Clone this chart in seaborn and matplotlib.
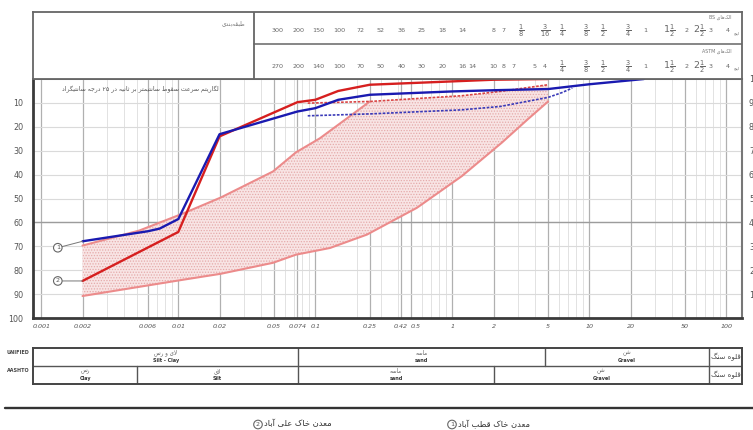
import re
import numpy as np
import matplotlib
matplotlib.use("Agg")
import matplotlib.pyplot as plt
from matplotlib.ticker import FixedLocator, FixedFormatter, NullFormatter
import seaborn as sns

# ---------------- gradation data (grain size in mm, percent passing) ----------------
size_s1 = [0.002, 0.006, 0.0073, 0.01, 0.02, 0.074, 0.1, 0.147, 0.25, 1, 2, 5, 10, 25]
pass_s1 = [32.1, 36.3, 37.4, 41.4, 76.9, 86.4, 87.8, 91.3, 93.4, 94.8, 95.3, 95.8, 97.8, 100]

size_s2 = [0.002, 0.01, 0.02, 0.074, 0.1, 0.147, 0.25, 1, 2, 5]
pass_s2 = [15.5, 36.0, 76.0, 90.3, 91.3, 95.0, 97.6, 99.0, 99.7, 100]

# specification envelope
env_upper_size = [0.002, 0.0052, 0.0108, 0.0204, 0.0491, 0.0722, 0.108, 0.25]
env_upper_pass = [30.3, 36.6, 43.7, 50.4, 61.3, 69.3, 75.2, 90.6]
env_lower_size = [0.002, 0.0108, 0.0204, 0.0491, 0.0722, 0.128, 0.238, 0.551, 1.175,
                  2.30, 3.56, 5]
env_lower_pass = [9.2, 16.0, 18.5, 23.1, 26.5, 29.3, 34.9, 46.1, 59.4, 73.4, 83.2, 90.6]

# dotted limit lines
lim_red_size = [0.088, 0.25, 1.175, 2.23, 5]
lim_red_pass = [89.9, 90.6, 93.0, 94.8, 97.6]
lim_blue_size = [0.088, 0.25, 1.175, 2.23, 5, 6.3, 7.5]
lim_blue_pass = [84.6, 85.4, 87.1, 88.5, 92.3, 94.3, 96.2]

# axis ticks
xtick_vals = [0.001, 0.002, 0.006, 0.01, 0.02, 0.05, 0.074, 0.1, 0.25, 0.42, 0.5,
              1, 2, 5, 10, 20, 50, 100]
xtick_labels = ["0.001", "0.002", "0.006", "0.01", "0.02", "0.05", "0.074", "0.1",
                "0.25", "0.42", "0.5", "1", "2", "5", "10", "20", "50", "100"]

# sieve series (opening in mm)
bs_sizes = [0.053, 0.075, 0.106, 0.15, 0.212, 0.3, 0.425, 0.6, 0.85, 1.18, 2.0, 2.36,
            3.18, 4.76, 6.35, 9.53, 12.7, 19.05, 25.4, 38.1, 50.8, 63.5, 76.2, 101.6]
bs_labels = ["300", "200", "150", "100", "72", "52", "36", "25", "18", "14", "8", "7",
             r"$\frac{1}{8}$", r"$\frac{3}{16}$", r"$\frac{1}{4}$", r"$\frac{3}{8}$",
             r"$\frac{1}{2}$", r"$\frac{3}{4}$", "1", r"$1\frac{1}{2}$", "2",
             r"$2\frac{1}{2}$", "3", "4"]
astm_sizes = [0.053, 0.075, 0.106, 0.15, 0.212, 0.3, 0.425, 0.6, 0.85, 1.18, 1.4, 2.0,
              2.36, 2.8, 4.0, 4.75, 6.35, 9.53, 12.7, 19.05, 25.4, 38.1, 50.8, 63.5,
              76.2, 101.6]
astm_labels = ["270", "200", "140", "100", "70", "50", "40", "30", "20", "16", "14",
               "10", "8", "7", "5", "4", r"$\frac{1}{4}$", r"$\frac{3}{8}$",
               r"$\frac{1}{2}$", r"$\frac{3}{4}$", "1", r"$1\frac{1}{2}$", "2",
               r"$2\frac{1}{2}$", "3", "4"]

# soil classification bands
unified_edges = [0.075, 4.75, 75]
unified_names = [("لای و رس", "Silt - Clay"), ("ماسه", "sand"), ("شن", "Gravel"),
                 ("قلوه سنگ", "")]
aashto_edges = [0.005, 0.075, 2.0, 75]
aashto_names = [("رس", "Clay"), ("لای", "Silt"), ("ماسه", "sand"), ("شن", "Gravel"),
                ("قلوه سنگ", "")]

sample_names = ["معدن خاک قطب آباد", "معدن خاک علی آباد"]

# ---------------- Persian text shaping (contextual forms + visual order) ----------------
_FORMS = {
    "\u0627": ("\uFE8D", "\uFE8E"),
    "\u0622": ("\uFE81", "\uFE82"),
    "\u0628": ("\uFE8F", "\uFE90", "\uFE91", "\uFE92"),
    "\u062A": ("\uFE95", "\uFE96", "\uFE97", "\uFE98"),
    "\u062B": ("\uFE99", "\uFE9A", "\uFE9B", "\uFE9C"),
    "\u062C": ("\uFE9D", "\uFE9E", "\uFE9F", "\uFEA0"),
    "\u0686": ("\uFB7A", "\uFB7B", "\uFB7C", "\uFB7D"),
    "\u062E": ("\uFEA5", "\uFEA6", "\uFEA7", "\uFEA8"),
    "\u062F": ("\uFEA9", "\uFEAA"),
    "\u0631": ("\uFEAD", "\uFEAE"),
    "\u0633": ("\uFEB1", "\uFEB2", "\uFEB3", "\uFEB4"),
    "\u0634": ("\uFEB5", "\uFEB6", "\uFEB7", "\uFEB8"),
    "\u0637": ("\uFEC1", "\uFEC2", "\uFEC3", "\uFEC4"),
    "\u0639": ("\uFEC9", "\uFECA", "\uFECB", "\uFECC"),
    "\u0642": ("\uFED5", "\uFED6", "\uFED7", "\uFED8"),
    "\u0644": ("\uFEDD", "\uFEDE", "\uFEDF", "\uFEE0"),
    "\u0645": ("\uFEE1", "\uFEE2", "\uFEE3", "\uFEE4"),
    "\u0646": ("\uFEE5", "\uFEE6", "\uFEE7", "\uFEE8"),
    "\u0647": ("\uFEE9", "\uFEEA", "\uFEEB", "\uFEEC"),
    "\u0648": ("\uFEED", "\uFEEE"),
    "\u06A9": ("\uFB8E", "\uFB8F", "\uFB90", "\uFB91"),
    "\u06AF": ("\uFB92", "\uFB93", "\uFB94", "\uFB95"),
    "\u06CC": ("\uFBFC", "\uFBFD", "\uFBFE", "\uFBFF"),
}
_LAM_ALEF = {"\u0627": ("\uFEFB", "\uFEFC"), "\u0622": ("\uFEF5", "\uFEF6")}


def _dual(c):
    return c in _FORMS and len(_FORMS[c]) == 4


def _shape(text):
    out = []
    i, n = 0, len(text)
    while i < n:
        c = text[i]
        if c not in _FORMS:
            if c != "\u200c":
                out.append(c)
            i += 1
            continue
        prev_join = i > 0 and _dual(text[i - 1])
        if c == "\u0644" and i + 1 < n and text[i + 1] in _LAM_ALEF:
            iso, fin = _LAM_ALEF[text[i + 1]]
            out.append(fin if prev_join else iso)
            i += 2
            continue
        next_join = _dual(c) and i + 1 < n and text[i + 1] in _FORMS
        f = _FORMS[c]
        if prev_join and next_join:
            g = f[3]
        elif prev_join:
            g = f[1]
        elif next_join:
            g = f[2]
        else:
            g = f[0]
        out.append(g)
        i += 1
    return "".join(out)


_LTR = r"[A-Za-z0-9\u06F0-\u06F9]+(?:[ .\-][A-Za-z0-9\u06F0-\u06F9]+)*"


def fa(text):
    shaped = _shape(text)
    parts = re.findall(_LTR + r"|(?:(?!" + _LTR + r").)+", shaped)
    vis = []
    for p in reversed(parts):
        vis.append(p if re.fullmatch(_LTR, p) else p[::-1])
    return "".join(vis)


# ---------------- figure ----------------
sns.set_theme(style="white")
plt.rcParams["font.family"] = ["DejaVu Sans"]
plt.rcParams["hatch.linewidth"] = 0.6
plt.rcParams["mathtext.fontset"] = "dejavusans"

W, H = 753, 430
fig = plt.figure(figsize=(W / 100, H / 100), dpi=100)
fig.patch.set_facecolor("white")


def rect(x0, y0, x1, y1):
    return [x0 / W, 1 - y1 / H, (x1 - x0) / W, (y1 - y0) / H]


XMIN, XMAX = 0.00087, 130
FRAME = "#666666"

ax = fig.add_axes(rect(33, 79, 742, 318))
ax.set_xscale("log")
ax.set_xlim(XMIN, XMAX)
ax.set_ylim(0, 100)

# grid
minor_vals = [k * 10.0 ** e for e in range(-3, 3) for k in range(2, 10)]
minor_vals = [v for v in minor_vals if XMIN < v < XMAX
              and not any(abs(v / m - 1) < 1e-6 for m in xtick_vals)]
ax.xaxis.set_major_locator(FixedLocator(xtick_vals))
ax.xaxis.set_major_formatter(FixedFormatter(xtick_labels))
ax.xaxis.set_minor_locator(FixedLocator(minor_vals))
ax.xaxis.set_minor_formatter(NullFormatter())
ax.grid(True, which="major", axis="x", color="#b0b0b0", lw=0.9)
ax.grid(True, which="minor", axis="x", color="#e2e2e2", lw=0.7)
ax.set_yticks(range(0, 101, 10))
ax.set_yticklabels(["" if v == 100 else str(100 - v) for v in range(0, 101, 10)])
ax.grid(True, which="major", axis="y", color="#dadada", lw=0.8)
ax.axhline(40, color="#9c9c9c", lw=1.0, zorder=0.6)
ax.set_axisbelow(True)

ax.tick_params(axis="x", which="both", length=0, pad=4, labelsize=4.6, labelcolor="#555555")
for t in ax.get_xticklabels():
    t.set_fontstyle("italic")
    if t.get_text() == "0.5":
        t.set_horizontalalignment("left")
ax.tick_params(axis="y", length=0, pad=7, labelsize=5.8, labelcolor="#555555")

for side in ("left", "bottom"):
    ax.spines[side].set_color("#3a3a3a")
    ax.spines[side].set_linewidth(2.0)
ax.spines["right"].set_color("#777777")
ax.spines["right"].set_linewidth(1.5)
ax.spines["top"].set_color(FRAME)
ax.spines["top"].set_linewidth(1.3)

# percent passing scale on the right
ax2 = ax.twinx()
ax2.set_ylim(0, 100)
ax2.set_yticks(range(10, 101, 10))
ax2.set_yticklabels([str(v) for v in range(10, 101, 10)])
ax2.tick_params(axis="y", length=0, pad=5, labelsize=5.8, labelcolor="#555555")
ax2.grid(False)
for s in ax2.spines.values():
    s.set_visible(False)

# envelope band
band_x = env_upper_size + [s for s in lim_red_size if s > env_upper_size[-1]] + env_lower_size[::-1]
band_y = env_upper_pass + [p for s, p in zip(lim_red_size, lim_red_pass)
                           if s > env_upper_size[-1]] + env_lower_pass[::-1]
ax.fill(band_x, band_y, facecolor="#f8e4e4", edgecolor="#e5aaaa", hatch="......",
        lw=0, zorder=1)

env_color = "#ec8b8b"
sns.lineplot(x=env_upper_size, y=env_upper_pass, ax=ax, color=env_color, lw=1.5,
             sort=False, errorbar=None, zorder=3)
sns.lineplot(x=env_lower_size, y=env_lower_pass, ax=ax, color=env_color, lw=1.5,
             sort=False, errorbar=None, zorder=3)
sns.lineplot(x=lim_red_size, y=lim_red_pass, ax=ax, color="#d94545", lw=1.2,
             linestyle=(0, (1.6, 0.9)), sort=False, errorbar=None, zorder=4)
sns.lineplot(x=lim_blue_size, y=lim_blue_pass, ax=ax, color="#3a3ab8", lw=1.2,
             linestyle=(0, (1.6, 0.9)), sort=False, errorbar=None, zorder=4)
sns.lineplot(x=size_s2, y=pass_s2, ax=ax, color="#d61f1f", lw=1.7,
             sort=False, errorbar=None, zorder=5)
sns.lineplot(x=size_s1, y=pass_s1, ax=ax, color="#1a1ab0", lw=1.7,
             sort=False, errorbar=None, zorder=6)
ax.set_xlabel("")
ax.set_ylabel("")

# curve tags
circ = dict(boxstyle="circle,pad=0.28", fc="white", ec="#666666", lw=0.8)
for k, (sx, sy, ty) in enumerate([(size_s1, pass_s1, 29.4), (size_s2, pass_s2, 15.5)]):
    ax.annotate(str(k + 1), xy=(sx[0], sy[0]), xytext=(0.00132, ty), fontsize=4.6,
                color="#555555", ha="center", va="center", bbox=circ,
                arrowprops=dict(arrowstyle="-", color="#777777", lw=0.7,
                                shrinkA=0, shrinkB=0), zorder=7)

ax.text(0.151, 0.958, fa("لگاریتم سرعت سقوط سانتیمتر بر ثانیه در ۲۵ درجه سانتیگراد"),
        transform=ax.transAxes, fontsize=4.4, color="#555555", ha="center", va="center")

# ---------------- sieve table above the chart ----------------
top = fig.add_axes(rect(33, 12, 742, 79), sharex=ax)
top.set_ylim(79, 12)
top.grid(False)
top.tick_params(which="both", length=0, labelbottom=False, labelleft=False)
for s in top.spines.values():
    s.set_color(FRAME)
    s.set_linewidth(1.3)
cell_edge = 0.0356
top.plot([cell_edge, cell_edge], [12, 79], color=FRAME, lw=1.3)
top.plot([cell_edge, XMAX], [44, 44], color=FRAME, lw=1.1)
top.text(0.299, 23, fa("طبقه\u200cبندی"), transform=top.get_yaxis_transform(),
         ha="right", va="center", fontsize=4.2, color="#777777")


def sieve_row(sizes, labels, y):
    for s, lab in zip(sizes, labels):
        fs = 6.8 if "$" in lab else 4.6
        top.text(s, y, lab, ha="center", va="center", fontsize=fs, color="#666666")


sieve_row(bs_sizes, bs_labels, 31)
sieve_row(astm_sizes, astm_labels, 67)
top.text(0.985, 17, fa("الک\u200cهای BS"), transform=top.get_yaxis_transform(),
         ha="right", va="center", fontsize=3.4, color="#777777")
top.text(0.985, 51, fa("الک\u200cهای ASTM"), transform=top.get_yaxis_transform(),
         ha="right", va="center", fontsize=3.4, color="#777777")
for yy in (33, 68):
    top.text(0.993, yy, fa("اینچ"), transform=top.get_yaxis_transform(),
             ha="center", va="center", fontsize=3.0, color="#777777")

# ---------------- classification table below the chart ----------------
bot = fig.add_axes(rect(33, 348, 742, 384), sharex=ax)
bot.set_ylim(384, 348)
bot.grid(False)
bot.tick_params(which="both", length=0, labelbottom=False, labelleft=False)
for s in bot.spines.values():
    s.set_color("#444444")
    s.set_linewidth(1.4)
bot.plot([XMIN, XMAX], [366, 366], color="#555555", lw=1.0)


def draw_row(edges, names, y0, y1):
    for e in edges:
        bot.plot([e, e], [y0, y1], color="#555555", lw=1.0)
    bounds = [XMIN] + edges + [XMAX]
    for (a, b), (pname, ename) in zip(zip(bounds[:-1], bounds[1:]), names):
        xc = np.sqrt(a * b)
        if ename:
            bot.text(xc, y0 + 5, fa(pname), ha="center", va="center", fontsize=4.0,
                     color="#666666")
            bot.text(xc, y0 + 12, ename, ha="center", va="center", fontsize=3.5,
                     color="#333333", fontweight="bold")
        else:
            bot.text(xc, (y0 + y1) / 2, fa(pname), ha="center", va="center",
                     fontsize=5.0, color="#444444")


draw_row(unified_edges, unified_names, 348, 366)
draw_row(aashto_edges, aashto_names, 366, 384)

# ---------------- page furniture ----------------
over = fig.add_axes([0, 0, 1, 1])
over.set_xlim(0, W)
over.set_ylim(H, 0)
over.axis("off")
over.text(18, 353, "UNIFIED", ha="center", va="center", fontsize=3.5,
          fontweight="bold", color="#444444")
over.text(18, 371, "AASHTO", ha="center", va="center", fontsize=3.5,
          fontweight="bold", color="#444444")
over.plot([5, W], [408, 408], color="#333333", lw=1.7)

for k, (xc, name) in enumerate([(452, sample_names[0]), (258, sample_names[1])]):
    over.text(xc, 424.5, str(k + 1), ha="center", va="center", fontsize=4.6,
              color="#555555", bbox=circ)
    over.text(xc + 6, 424, fa(name), ha="left", va="center", fontsize=6.0,
              color="#333333")

fig.savefig("out.png", dpi=100, facecolor="white")
